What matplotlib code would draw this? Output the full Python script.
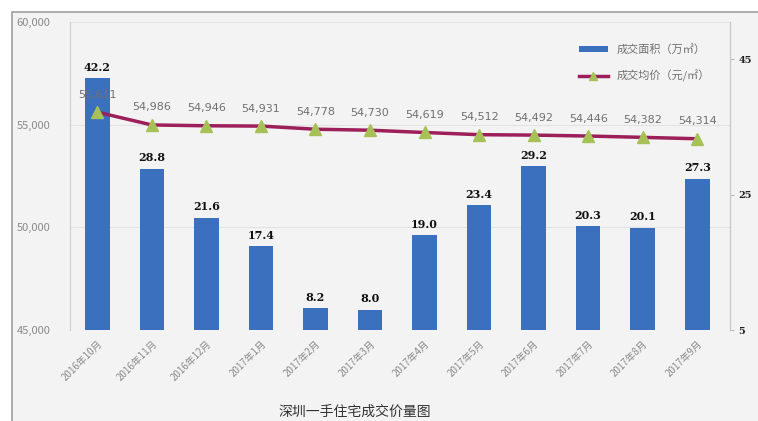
import matplotlib
matplotlib.use("Agg")
import matplotlib.pyplot as plt
from matplotlib.patches import Rectangle
from matplotlib.lines import Line2D
from matplotlib.patches import Patch

plt.rcParams['font.family'] = ['Noto Sans CJK SC', 'DejaVu Sans']

months = ['2016年10月', '2016年11月', '2016年12月', '2017年1月', '2017年2月', '2017年3月',
          '2017年4月', '2017年5月', '2017年6月', '2017年7月', '2017年8月', '2017年9月']
area = [42.2, 28.8, 21.6, 17.4, 8.2, 8.0, 19.0, 23.4, 29.2, 20.3, 20.1, 27.3]
price = [55611, 54986, 54946, 54931, 54778, 54730, 54619, 54512, 54492, 54446, 54382, 54314]
left_ticks = [45000, 50000, 55000, 60000]
right_ticks = [5, 25, 45]

bar_color = '#3b70bf'
line_color = '#9c1f5a'
marker_color = '#a6c257'
bg = '#f3f3f3'

fig = plt.figure(figsize=(7.58, 4.21), dpi=100)
fig.patch.set_facecolor('white')
# grey chart frame, kept behind both axes
fig.patches.append(Rectangle((12 / 758, -0.01), 1.0, 1 - 12 / 421 + 0.01,
                             transform=fig.transFigure, facecolor=bg,
                             edgecolor='#a0a0a0', linewidth=1.2, zorder=-5))

ax = fig.add_axes([70 / 758, 1 - 330 / 421, 660 / 758, 308 / 421])
ax2 = ax.twinx()

x = list(range(len(months)))

# area bars on the secondary axis
ax2.set_facecolor(bg)
ax2.bar(x, area, width=0.45, color=bar_color, zorder=2)
ax2.set_ylim(5, 50.5)
ax2.set_yticks(right_ticks)
ax2.set_yticklabels([str(t) for t in right_ticks], fontsize=7, fontweight='bold',
                    color='#222222', family='DejaVu Serif')
ax2.tick_params(axis='y', length=3, color='#bbbbbb', pad=3)
for xi, v in zip(x, area):
    ax2.annotate(f'{v:.1f}', (xi, v), xytext=(0, 4), textcoords='offset points',
                 ha='center', va='bottom', fontsize=8, fontweight='bold',
                 family='DejaVu Serif', color='#111111')

# average price line on the primary axis, drawn above bars
ax.set_zorder(ax2.get_zorder() + 1)
ax.patch.set_visible(False)
ax.plot(x, price, color=line_color, linewidth=2.5, zorder=3)
ax.plot(x, price, linestyle='none', marker='^', markersize=8,
        markerfacecolor=marker_color, markeredgecolor=marker_color, zorder=4)
for xi, v in zip(x, price):
    ax.annotate(f'{v:,}', (xi, v), xytext=(0, 9), textcoords='offset points',
                ha='center', va='bottom', fontsize=8, color='#707070',
                family='DejaVu Sans')

ax.set_ylim(45000, 60000)
ax.set_yticks(left_ticks)
ax.set_yticklabels([f'{t:,}' for t in left_ticks], fontsize=8, color='#8a8a8a')
ax.tick_params(axis='y', length=0, pad=14)
ax.set_xlim(-0.5, len(months) - 0.4)
ax.set_xticks(x)
ax.set_xticklabels(months, rotation=45, ha='right', rotation_mode='anchor',
                   fontsize=7, color='#8a8a8a')
ax.tick_params(axis='x', length=0, pad=6)
ax2.grid(False)
for t in left_ticks[1:]:
    ax2.axhline(5 + (t - 45000) / 15000 * 45.5, color='#e2e2e2', linewidth=0.8, zorder=1)

for a in (ax, ax2):
    for side in ('top', 'bottom'):
        a.spines[side].set_visible(False)
    a.spines['left'].set_color('#d0d0d0')
    a.spines['right'].set_color('#c8c8c8')

handles = [Patch(facecolor=bar_color, edgecolor='none'),
           Line2D([0], [0], color=line_color, linewidth=2.5, marker='^', markersize=6,
                  markerfacecolor=marker_color, markeredgecolor=marker_color)]
ax.legend(handles, ['成交面积（万㎡）', '成交均价（元/㎡）'], loc='upper right',
          bbox_to_anchor=(0.985, 0.96), frameon=False, fontsize=8, labelcolor='#707070',
          handlelength=2.6, handleheight=0.5, labelspacing=1.3)

fig.text(355 / 758, 1 - 412 / 421, '深圳一手住宅成交价量图', ha='center', va='center',
         fontsize=10, color='#333333')

fig.savefig('out.png', dpi=100, facecolor=fig.get_facecolor())
